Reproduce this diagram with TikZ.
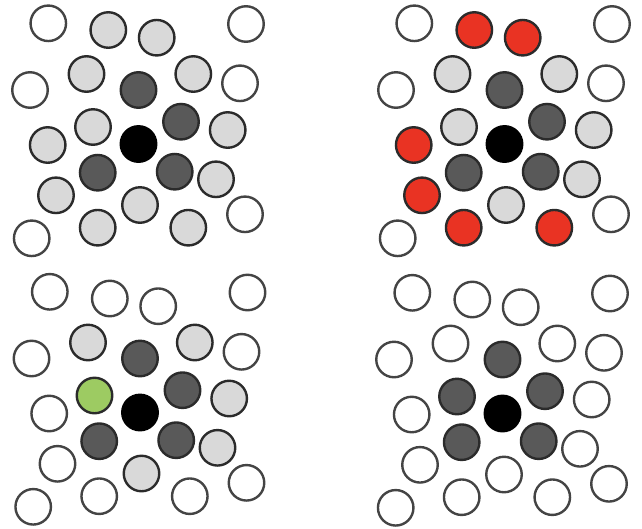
\documentclass[tikz,border=0pt]{standalone}
\usetikzlibrary{shapes.geometric}
\definecolor{ringW}{HTML}{444444}
\definecolor{ringF}{HTML}{2B2B2B}
\definecolor{lgray}{HTML}{D9D9D9}
\definecolor{dgray}{HTML}{595959}
\definecolor{redc}{HTML}{E93323}
\definecolor{greenc}{HTML}{9DCB62}
\tikzset{
  dot/.style={circle,inner sep=0pt,minimum size=35.5pt,line width=2.4pt},
  cW/.style={dot,draw=ringW,fill=white},
  cL/.style={dot,draw=ringF,fill=lgray},
  cD/.style={dot,draw=ringF,fill=dgray},
  cK/.style={dot,draw=black,fill=black},
  cR/.style={dot,draw=ringF,fill=redc},
  cG/.style={dot,draw=ringF,fill=greenc},
}
\newcommand{\panel}[4]{%
  \begin{scope}[shift={(#2,#3)}]
  \foreach \i/\x/\y [count=\k] in {1/48.3/23.3,2/108.3/30,3/156.7/37.7,4/246/24,5/30/90,6/86.5/74,7/138.5/90,8/193.3/74,9/240/83.3,10/93/127,11/181/121.7,12/227.7/130,13/47.7/145,14/138.5/144,15/97.7/172.7,16/174.7/171.7,17/216/179.3,18/56/195.3,19/140/205,20/245/214.3,21/97.7/227.7,22/188.3/227.7,23/31.7/238.3}{
    \pgfmathsetmacro{\cc}{{#4}[\k-1]}
    \node[c\cc] (#1-\i) at (\x,\y) {};
  }
  \end{scope}}
\begin{document}
\begin{tikzpicture}[x=1pt,y=-1pt]
\useasboundingbox (0,0) rectangle (642,528);
\panel{tl}{0}{0}{"W","L","L","W","W","L","D","L","W","L","D","L","L","K","D","D","L","L","L","W","L","L","W"}
\panel{tr}{366}{0}{"W","R","R","W","W","L","D","L","W","L","D","L","R","K","D","D","L","R","L","W","R","R","W"}
\panel{bl}{1.5}{268.5}{"W","W","W","W","W","L","D","L","W","G","D","L","W","K","D","D","L","W","L","W","W","W","W"}
\panel{br}{364}{269.5}{"W","W","W","W","W","W","D","W","W","D","D","W","W","K","D","D","W","W","W","W","W","W","W"}
\end{tikzpicture}
\end{document}
